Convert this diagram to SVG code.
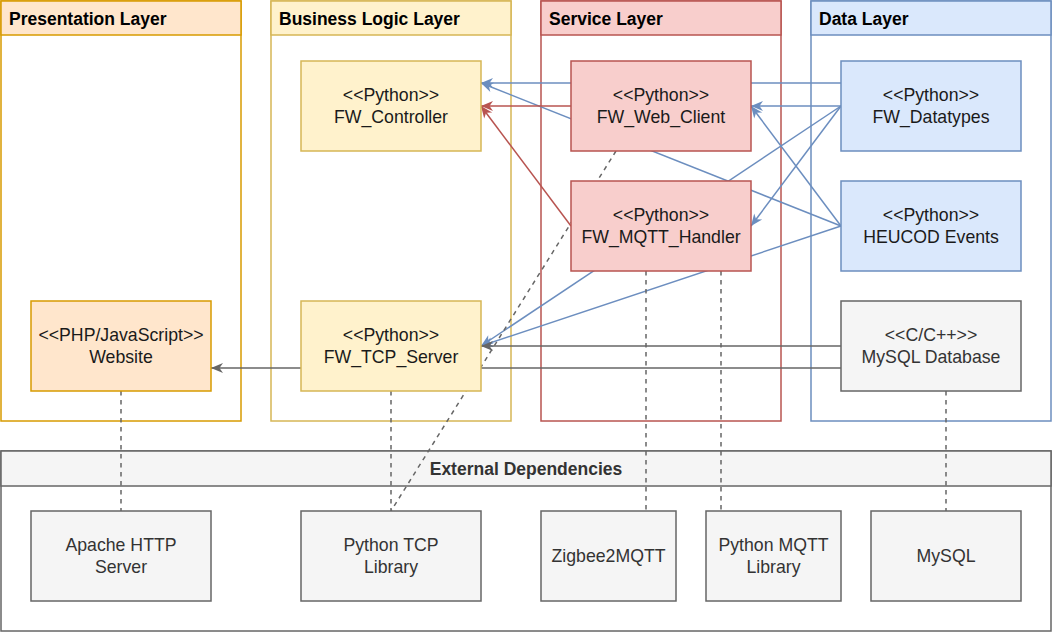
<svg xmlns="http://www.w3.org/2000/svg" width="1053" height="633" viewBox="0 0 1053 633">
<style>
text{font-family:"Liberation Sans",Arial,Helvetica,sans-serif}
.hd{font-size:17.5px;font-weight:bold;fill:#000}
.nt{font-size:17.7px;fill:#1a1a1a;text-anchor:middle}
.gt{font-size:17.7px;fill:#333333;text-anchor:middle}
.e{fill:none;stroke-width:1.5}
.b{stroke:#6c8ebf}
.r{stroke:#b85450}
.g{stroke:#666666}
.d{stroke:#666666;stroke-dasharray:4.5 4.5}
.or{fill:#ffe6cc;stroke:#d79b00;stroke-width:1.5}
.ye{fill:#fff2cc;stroke:#d6b656;stroke-width:1.5}
.re{fill:#f8cecc;stroke:#b85450;stroke-width:1.5}
.bl{fill:#dae8fc;stroke:#6c8ebf;stroke-width:1.5}
.gr{fill:#f5f5f5;stroke:#666666;stroke-width:1.5}
</style>
<defs>
<marker id="ab" markerUnits="userSpaceOnUse" markerWidth="13" markerHeight="11" refX="12.5" refY="5.5" orient="auto" viewBox="0 0 13 11"><path d="M0.5,0.5 L12.5,5.5 L0.5,10.5 L4,5.5 Z" fill="#6c8ebf"/></marker>
<marker id="ar" markerUnits="userSpaceOnUse" markerWidth="13" markerHeight="11" refX="12.5" refY="5.5" orient="auto" viewBox="0 0 13 11"><path d="M0.5,0.5 L12.5,5.5 L0.5,10.5 L4,5.5 Z" fill="#b85450"/></marker>
<marker id="ag" markerUnits="userSpaceOnUse" markerWidth="13" markerHeight="11" refX="12.5" refY="5.5" orient="auto" viewBox="0 0 13 11"><path d="M0.5,0.5 L12.5,5.5 L0.5,10.5 L4,5.5 Z" fill="#666666"/></marker>
</defs>
<rect width="1053" height="633" fill="#ffffff"/>
<g id="lane-presentation">
<rect x="1" y="1" width="240" height="420" fill="#ffffff" stroke="#d79b00" stroke-width="1.5"/>
<rect x="1" y="1" width="240" height="34" class="or"/>
<text x="9" y="25" class="hd">Presentation Layer</text>
</g>
<g id="lane-business">
<rect x="271" y="1" width="240" height="420" fill="#ffffff" stroke="#d6b656" stroke-width="1.5"/>
<rect x="271" y="1" width="240" height="34" class="ye"/>
<text x="279" y="25" class="hd">Business Logic Layer</text>
</g>
<g id="lane-service">
<rect x="541" y="1" width="240" height="420" fill="#ffffff" stroke="#b85450" stroke-width="1.5"/>
<rect x="541" y="1" width="240" height="34" class="re"/>
<text x="549" y="25" class="hd">Service Layer</text>
</g>
<g id="lane-data">
<rect x="811" y="1" width="240" height="420" fill="#ffffff" stroke="#6c8ebf" stroke-width="1.5"/>
<rect x="811" y="1" width="240" height="34" class="bl"/>
<text x="819" y="25" class="hd">Data Layer</text>
</g>
<g id="external-dependencies">
<rect x="1" y="451" width="1050" height="180" fill="#ffffff" stroke="#666666" stroke-width="1.5"/>
<rect x="1" y="451" width="1050" height="35" class="gr"/>
<text x="526" y="475" class="hd" fill="#333333" style="fill:#333333" text-anchor="middle">External Dependencies</text>
</g>
<g id="connectors">
<line x1="841" y1="83" x2="481" y2="83" class="e b" marker-end="url(#ab)"/>
<line x1="841" y1="226" x2="481" y2="83" class="e b" marker-end="url(#ab)"/>
<line x1="841" y1="106" x2="751" y2="106" class="e b" marker-end="url(#ab)"/>
<line x1="841" y1="226" x2="751" y2="106" class="e b" marker-end="url(#ab)"/>
<line x1="841" y1="106" x2="751" y2="226" class="e b" marker-end="url(#ab)"/>
<line x1="841" y1="106" x2="481" y2="346" class="e b" marker-end="url(#ab)"/>
<line x1="841" y1="226" x2="481" y2="346" class="e b" marker-end="url(#ab)"/>
<line x1="571" y1="106" x2="481" y2="106" class="e r" marker-end="url(#ar)"/>
<line x1="571" y1="226" x2="481" y2="106" class="e r" marker-end="url(#ar)"/>
<line x1="841" y1="346" x2="481" y2="346" class="e g" marker-end="url(#ag)"/>
<line x1="841" y1="368" x2="211" y2="368" class="e g" marker-end="url(#ag)"/>
<line x1="121" y1="391" x2="121" y2="511" class="e d"/>
<line x1="391" y1="391" x2="391" y2="511" class="e d"/>
<line x1="616" y1="151" x2="391" y2="511" class="e d"/>
<line x1="646" y1="271" x2="646" y2="511" class="e d"/>
<line x1="721" y1="271" x2="721" y2="511" class="e d"/>
<line x1="946" y1="391" x2="946" y2="511" class="e d"/>
</g>
<g id="website">
<rect x="31" y="301" width="180" height="90" class="or"/>
<text x="121" y="341" class="nt">&lt;&lt;PHP/JavaScript&gt;&gt;</text>
<text x="121" y="363" class="nt">Website</text>
</g>
<g id="fw-controller">
<rect x="301" y="61" width="180" height="90" class="ye"/>
<text x="391" y="101" class="nt">&lt;&lt;Python&gt;&gt;</text>
<text x="391" y="123" class="nt">FW_Controller</text>
</g>
<g id="fw-tcp-server">
<rect x="301" y="301" width="180" height="90" class="ye"/>
<text x="391" y="341" class="nt">&lt;&lt;Python&gt;&gt;</text>
<text x="391" y="363" class="nt">FW_TCP_Server</text>
</g>
<g id="fw-web-client">
<rect x="571" y="61" width="180" height="90" class="re"/>
<text x="661" y="101" class="nt">&lt;&lt;Python&gt;&gt;</text>
<text x="661" y="123" class="nt">FW_Web_Client</text>
</g>
<g id="fw-mqtt-handler">
<rect x="571" y="181" width="180" height="90" class="re"/>
<text x="661" y="221" class="nt">&lt;&lt;Python&gt;&gt;</text>
<text x="661" y="243" class="nt">FW_MQTT_Handler</text>
</g>
<g id="fw-datatypes">
<rect x="841" y="61" width="180" height="90" class="bl"/>
<text x="931" y="101" class="nt">&lt;&lt;Python&gt;&gt;</text>
<text x="931" y="123" class="nt">FW_Datatypes</text>
</g>
<g id="heucod-events">
<rect x="841" y="181" width="180" height="90" class="bl"/>
<text x="931" y="221" class="nt">&lt;&lt;Python&gt;&gt;</text>
<text x="931" y="243" class="nt">HEUCOD Events</text>
</g>
<g id="mysql-database">
<rect x="841" y="301" width="180" height="90" class="gr"/>
<text x="931" y="341" class="gt">&lt;&lt;C/C++&gt;&gt;</text>
<text x="931" y="363" class="gt">MySQL Database</text>
</g>
<g id="apache-http-server">
<rect x="31" y="511" width="180" height="90" class="gr"/>
<text x="121" y="551" class="gt">Apache HTTP</text>
<text x="121" y="573" class="gt">Server</text>
</g>
<g id="python-tcp-library">
<rect x="301" y="511" width="180" height="90" class="gr"/>
<text x="391" y="551" class="gt">Python TCP</text>
<text x="391" y="573" class="gt">Library</text>
</g>
<g id="zigbee2mqtt">
<rect x="541" y="511" width="135" height="90" class="gr"/>
<text x="608.5" y="562" class="gt">Zigbee2MQTT</text>
</g>
<g id="python-mqtt-library">
<rect x="706" y="511" width="135" height="90" class="gr"/>
<text x="773.5" y="551" class="gt">Python MQTT</text>
<text x="773.5" y="573" class="gt">Library</text>
</g>
<g id="mysql">
<rect x="871" y="511" width="150" height="90" class="gr"/>
<text x="946" y="562" class="gt">MySQL</text>
</g>
</svg>
